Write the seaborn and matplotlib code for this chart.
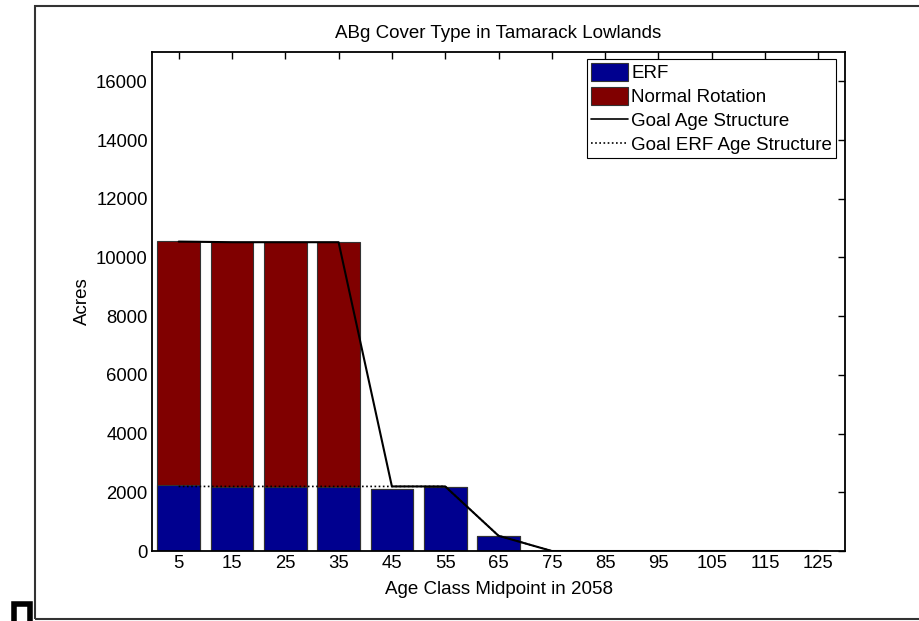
import matplotlib
matplotlib.use("Agg")
import matplotlib.pyplot as plt
from matplotlib.patches import Rectangle, Patch
from matplotlib.lines import Line2D
import pandas as pd
import seaborn as sns

# data
age_class = [5, 15, 25, 35, 45, 55, 65, 75, 85, 95, 105, 115, 125]
erf_acres = [2250, 2190, 2190, 2190, 2100, 2190, 520, 0, 0, 0, 0, 0, 0]
normal_rotation_acres = [8320, 8330, 8330, 8330, 0, 0, 0, 0, 0, 0, 0, 0, 0]
goal_age_structure = [10540, 10520, 10520, 10520, 2200, 2200, 520, 0, 0, 0, 0, 0, 0]
goal_erf_structure = [2200, 2200, 2200, 2200, 2200, 2200, 520, 0, 0, 0, 0, 0, 0]

sns.set_style("white")
plt.rcParams['font.family'] = ['Liberation Sans', 'DejaVu Sans']
plt.rcParams['text.color'] = 'black'
plt.rcParams['axes.labelcolor'] = 'black'

df = pd.DataFrame({
    'age': age_class,
    'erf': erf_acres,
    'total': [e + n for e, n in zip(erf_acres, normal_rotation_acres)],
    'goal': goal_age_structure,
    'goal_erf': goal_erf_structure,
})

fig = plt.figure(figsize=(9.19, 6.21), dpi=100)
ax = fig.add_axes([0.1654, 0.1127, 0.7541, 0.8036])

blue = '#00008F'
red = '#800000'
fs = 13.5

# stacked bars: draw totals in red, then ERF in blue on top
sns.barplot(data=df, x='age', y='total', native_scale=True, width=0.8,
            color=red, saturation=1, edgecolor='#333333', linewidth=0.8, ax=ax)
sns.barplot(data=df, x='age', y='erf', native_scale=True, width=0.8,
            color=blue, saturation=1, edgecolor='#333333', linewidth=0.8, ax=ax)

sns.lineplot(data=df, x='age', y='goal_erf', color='black', linewidth=1.2,
             linestyle=(0, (1, 1.5)), ax=ax)
sns.lineplot(data=df, x='age', y='goal', color='black', linewidth=1.5, ax=ax)

ax.set_xlim(0, 130)
ax.set_ylim(0, 17000)
ax.set_xticks(age_class)
ax.set_xticklabels([str(a) for a in age_class])
ax.set_yticks(range(0, 17000, 2000))
ax.tick_params(direction='in', length=5, width=1, top=True, right=True,
               labelsize=13.3, colors='black', pad=3)
for s in ax.spines.values():
    s.set_color('black')
    s.set_linewidth(1.3)

ax.set_title('ABg Cover Type in Tamarack Lowlands', fontsize=fs, pad=10)
ax.set_xlabel('Age Class Midpoint in 2058', fontsize=fs, labelpad=6)
ax.set_ylabel('Acres', fontsize=fs, labelpad=4)

handles = [
    Patch(facecolor=blue, edgecolor='#333333', linewidth=0.8),
    Patch(facecolor=red, edgecolor='#333333', linewidth=0.8),
    Line2D([], [], color='black', linewidth=1.2),
    Line2D([], [], color='black', linewidth=1.2, linestyle=(0, (1, 1.5))),
]
labels = ['ERF', 'Normal Rotation', 'Goal Age Structure', 'Goal ERF Age Structure']
leg = ax.legend(handles, labels, loc='upper left', bbox_to_anchor=(0.628, 0.986),
                borderaxespad=0, fontsize=fs, fancybox=False, framealpha=1,
                edgecolor='black', handlelength=2.0, handleheight=1.1,
                handletextpad=0.15, labelspacing=0.25, borderpad=0.2)
leg.get_frame().set_linewidth(0.8)

# outer figure frame and the small mark in the bottom-left corner
fig.patches.append(Rectangle((35 / 919, 2 / 621), 1.0, 613 / 621, transform=fig.transFigure,
                             fill=False, edgecolor='#333333', linewidth=1.5))
fig.patches.append(Rectangle((14 / 919, -5 / 621), 16 / 919, 22 / 621, transform=fig.transFigure,
                             facecolor='white', edgecolor='black', linewidth=4))

fig.savefig('out.png', dpi=100)
